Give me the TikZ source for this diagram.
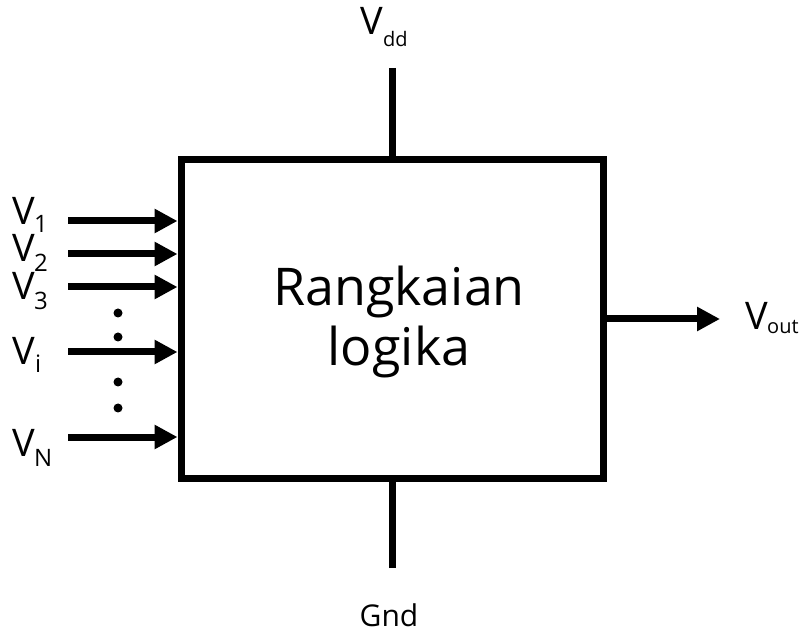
\documentclass[tikz,border=0pt]{standalone}
\usepackage{fontspec}
\setmainfont{Open Sans}
\usetikzlibrary{arrows.meta}
\begin{document}
\begin{tikzpicture}[x=1pt,y=-1pt,
  wire/.style={line width=7pt},
  sig/.style={line width=7pt,-{Triangle[length=23pt,width=23pt]}},
  lbl/.style={anchor=base west,inner sep=0pt,font=\fontsize{38}{42}\selectfont},
  sub/.style={anchor=base west,inner sep=0pt,font=\fontsize{24}{28}\selectfont},
  subs/.style={anchor=base west,inner sep=0pt,font=\fontsize{20}{24}\selectfont},
  dotc/.style={circle,fill=black,inner sep=0pt,minimum size=9pt}]
\useasboundingbox (0,0) rectangle (801,636);
\node[draw,line width=7pt,minimum width=422pt,minimum height=318pt,inner sep=0pt] (box) at (392,319) {};
\node[align=center,inner sep=0pt,font=\fontsize{52}{60}\selectfont] (txt) at (399,322) {Rangkaian\\logika};
% supply lines
\coordinate (vddend) at (392,68);
\coordinate (gndend) at (392,568);
\draw[wire] (vddend) -- (box.north -| vddend);
\draw[wire] (gndend) -- (box.south -| gndend);
% output
\coordinate (outend) at (720,319);
\draw[sig] (box.east |- outend) -- (outend);
% inputs
\foreach \n/\y in {a/221,b/254,c/287,d/352,e/437}{
  \coordinate (in\n) at (68,\y);
  \draw[sig] (in\n) -- (box.west |- in\n);
}
% dots
\node[dotc] (d1) at (118,313) {};
\node[dotc] (d2) at (118,337) {};
\node[dotc] (d3) at (118,382) {};
\node[dotc] (d4) at (118,408) {};
% labels
\node[lbl] (v1) at (12,225) {V};
\node[sub] (v1s) at (34,233) {1};
\node[lbl] (v2) at (12,262) {V};
\node[sub] (v2s) at (34,272) {2};
\node[lbl] (v3) at (12,300) {V};
\node[sub] (v3s) at (34,310) {3};
\node[lbl] (vi) at (12,365) {V};
\node[sub] (vis) at (35,373) {i};
\node[lbl] (vn) at (12,456) {V};
\node[sub] (vns) at (34,466) {N};
\node[lbl] (vdd) at (360,35) {V};
\node[subs] (vdds) at (383,47) {dd};
\node[lbl] (vout) at (745,330) {V};
\node[subs] (vouts) at (767,334) {out};
\node[anchor=base,inner sep=0pt,font=\fontsize{30}{34}\selectfont] (gnd) at (389,626) {Gnd};
\end{tikzpicture}
\end{document}
